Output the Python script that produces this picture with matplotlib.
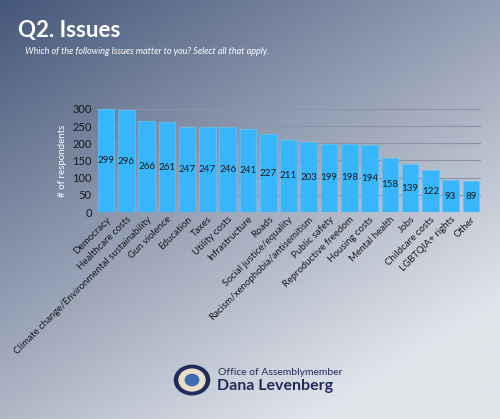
import matplotlib
matplotlib.use("Agg")
import matplotlib.pyplot as plt
import numpy as np
from matplotlib.patches import Circle

categories = ["Democracy", "Healthcare costs", "Climate change/Environmental sustainability",
              "Gun violence", "Education", "Taxes", "Utility costs", "Infrastructure", "Roads",
              "Social justice/equality", "Racism/xenophobia/antisemitism", "Public safety",
              "Reproductive freedom", "Housing costs", "Mental health", "Jobs",
              "Childcare costs", "LGBTQIA+ rights", "Other"]
values = [299, 296, 266, 261, 247, 247, 246, 241, 227, 211, 203, 199, 198, 194, 158, 139, 122, 93, 89]
yticks = [0, 50, 100, 150, 200, 250, 300]

plt.rcParams['font.family'] = ['Lato', 'DejaVu Sans']
fig = plt.figure(figsize=(5, 4.19), dpi=100)

bg = fig.add_axes([0, 0, 1, 1])
xx, yy = np.meshgrid(np.linspace(0, 1, 200), np.linspace(0, 1, 200))
t = np.clip((xx * 0.55 + yy * 0.75) / 1.1, 0, 1)
c0 = np.array([0x45, 0x57, 0x7a]) / 255
c1 = np.array([0xe2, 0xe5, 0xeb]) / 255
img = c0[None, None, :] * (1 - t[..., None]) + c1[None, None, :] * t[..., None]
bg.imshow(img, extent=[0, 1, 0, 1], origin='upper', aspect='auto')
bg.set_xlim(0, 1); bg.set_ylim(0, 1); bg.axis('off')

fig.text(0.036, 0.928, "Q2. Issues", fontsize=16, fontweight='bold', color='white', va='center')
fig.text(0.05, 0.876, "Which of the following Issues matter to you? Select all that apply.",
         fontsize=6.5, style='italic', color='white', va='center')

ax = fig.add_axes([0.192, 0.494, 0.77, 0.246])
ax.patch.set_alpha(0)
x = np.arange(len(categories))
ax.bar(x, values, width=0.82, color='#38b6fc', edgecolor='#5ec4fc', linewidth=0.5, zorder=3)
for xi, v in zip(x, values):
    ax.text(xi, v / 2, str(v), ha='center', va='center', fontsize=7, color='#1a1a1a', zorder=4)
ax.set_ylim(0, 300)
ax.set_xlim(-0.5, len(categories) - 0.5)
ax.set_yticks(yticks)
ax.tick_params(axis='y', length=0, labelsize=8, colors='#1a1a1a', pad=3)
ax.tick_params(axis='x', length=0, pad=2)
ax.set_xticks(x)
ax.set_xticklabels(categories, rotation=45, ha='right', rotation_mode='anchor', fontsize=7, color='#1a1a1a')
ax.grid(axis='y', color='#8a94a6', linewidth=0.8, zorder=0)
for s in ax.spines.values():
    s.set_visible(False)
ax.set_ylabel("# of respondents", fontsize=7, color='white', labelpad=4)

# seal logo (approximation)
sx, sy, r = 0.384, 0.093, 0.042
bg.add_patch(Circle((sx, sy), r * 0.838, transform=bg.transAxes, color='#1f2d5c'))
bg.add_patch(Circle((sx, sy), r * 0.62, transform=bg.transAxes, color='#e8dfc8'))
bg.add_patch(Circle((sx, sy), r * 0.32, transform=bg.transAxes, color='#3d6ab0'))
fig.text(0.436, 0.112, "Office of Assemblymember", fontsize=7.5, color='#1f2d5c', va='center')
fig.text(0.434, 0.078, "Dana Levenberg", fontsize=11.5, fontweight='bold', color='#1f2d5c', va='center')

fig.savefig("out.png", dpi=100)
